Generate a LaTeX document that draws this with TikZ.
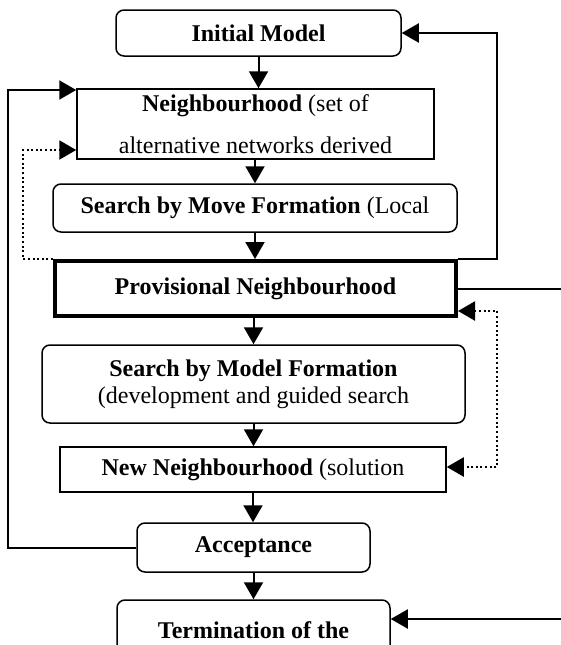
\documentclass[tikz,border=0pt]{standalone}
\usepackage{fontspec}
\setmainfont{Liberation Serif}
\usetikzlibrary{arrows.meta}
\begin{document}
\begin{tikzpicture}[x=1pt,y=-1pt,
  box/.style={draw, line width=1.5pt, inner sep=0pt, align=center, font=\fontsize{24}{27}\selectfont},
  rbox/.style={box, rounded corners=8pt},
  tip/.tip={Triangle[length=17pt,width=19pt]},
  line/.style={line width=2pt},
  arr/.style={line, -tip},
  dots/.style={line width=2.2pt, dash pattern=on 2pt off 2.6pt}]
\useasboundingbox (0,0) rectangle (561,645);
\clip (0,0) rectangle (561,645);

\node[rbox, minimum width=285pt, minimum height=46pt] (im) at (258.5,33) {\bfseries Initial Model};
\node[box, minimum width=357pt, minimum height=70pt] (n) at (255.5,124) {\textbf{Neighbourhood} (set of\\[15pt]alternative networks derived};
\node[rbox, minimum width=404pt, minimum height=48pt] (sm) at (255,208) {\textbf{Search by Move Formation} (Local};
\node[box, line width=4pt, minimum width=401pt, minimum height=55pt] (p) at (255.5,288.5) {\bfseries Provisional Neighbourhood};
\node[rbox, minimum width=423pt, minimum height=78pt] (mf) at (253.5,384) {\textbf{Search by Model Formation}\\(development and guided search};
\node[box, minimum width=386pt, minimum height=45pt] (nn) at (253,469.5) {\textbf{New Neighbourhood} (solution};
\node[rbox, minimum width=233pt, minimum height=49pt] (acc) at (253.5,547.5) {\bfseries Acceptance};
\node[rbox, minimum width=273pt, minimum height=60pt] (term) at (253.5,630) {\bfseries Termination of the};

\coordinate (rx) at (497,0);
\coordinate (lx) at (23,0);
\coordinate (llx) at (8,0);
\coordinate (e1) at (561,288.5);
\coordinate (e2) at (561,619);

\draw[arr] (im.south) -- (im.south |- n.north);
\draw[arr] (sm.north |- n.south) -- (sm.north);
\draw[arr] (sm.south) -- (sm.south |- p.north);
\draw[arr] (mf.north |- p.south) -- (mf.north);
\draw[arr] (mf.south) -- (mf.south |- nn.north);
\draw[arr] (nn.south) -- (nn.south |- acc.north);
\draw[arr] (acc.south) -- (acc.south |- term.north);

\draw[arr] (p.north east) -- (p.north east -| rx) |- (im.east);
\draw[line] (p.east) -- (e1);
\draw[arr] (e2) -- (e2 -| term.east);
\draw[dots, tip-tip] (p.east |- 0,311) -- (rx |- 0,311) |- (nn.east |- 0,467);
\draw[dots, -tip] (p.north west) -- (p.north west -| lx) |- (n.west |- 0,150);
\draw[arr] (acc.west) -- (acc.west -| llx) |- (n.west |- 0,90);
\end{tikzpicture}
\end{document}
